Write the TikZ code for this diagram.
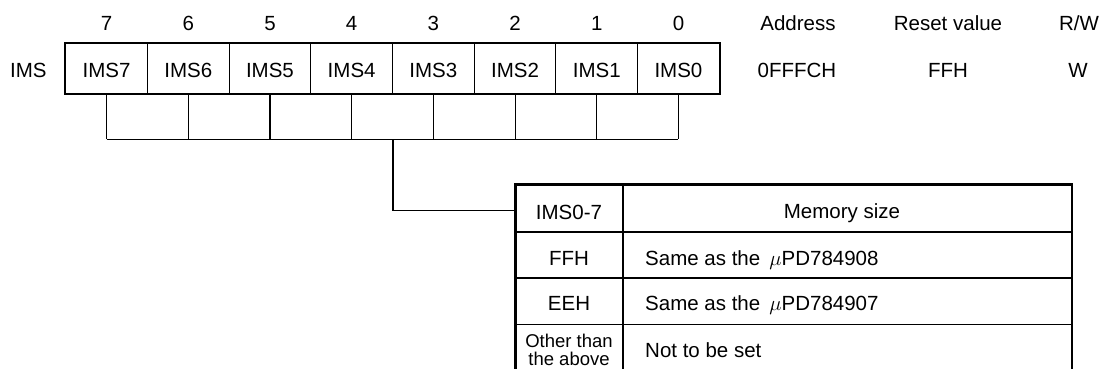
\documentclass[tikz,border=0pt]{standalone}
\usepackage{fontspec}
\setmainfont{Liberation Sans}
\begin{document}
\begin{tikzpicture}[x=1pt,y=-1pt,
  txt/.style={font=\fontsize{20.5}{24}\selectfont, inner sep=0pt, anchor=base},
  small/.style={font=\fontsize{18.5}{18}\selectfont, inner sep=0pt, align=center},
  cell/.style={draw, line width=1pt, minimum width=81.7pt, minimum height=50pt,
    inner sep=0pt, text height=18pt, text depth=0pt, font=\fontsize{20.5}{24}\selectfont},
  thinline/.style={line width=1.1pt},
  thickline/.style={line width=2.5pt}]
\useasboundingbox (0,0) rectangle (1103,368);
\clip (0,0) rectangle (1103,368);

% register label
\node[txt] (lbl) at (28.3,77.3) {IMS};

% register cells and bit numbers
\foreach \b in {7,...,0} {
  \pgfmathsetmacro\cx{65.7+81.7*(7-\b)+40.85}
  \node[cell] (c\b) at (\cx,68.3) {IMS\b};
  \node[txt] (n\b) at (\cx,30.6) {\b};
}
\draw[thickline] (c7.north west) rectangle (c0.south east);

% header info
\node[txt] (addrh) at (798,30) {Address};
\node[txt] (reseth) at (948,30) {Reset value};
\node[txt] (rwh) at (1079,30) {R/W};
\node[txt] (addr) at (797,77.3) {0FFFCH};
\node[txt] (reset) at (948,77.3) {FFH};
\node[txt] (rw) at (1078,77.3) {W};

% comb
\coordinate (bus) at (0,139.3);
\foreach \b in {7,...,0} {
  \draw[thinline] (c\b.south) -- (c\b.south |- bus);
}
\draw[thinline] (c7.south |- bus) -- (c0.south |- bus);
\coordinate (tap) at (c4.south east |- bus);

% table
\coordinate (tl) at (515.5,184.5);
\coordinate (tr) at (1072,184.5);
\draw[thickline] (515.5,380) -- (tl) -- (tr) -- (1072,380);
\draw[line width=2pt] (515.5,231.5) -- (1072,231.5);
\draw[thinline] (515.5,278) -- (1072,278);
\draw[thinline] (515.5,324.5) -- (1072,324.5);
\draw[thinline] (623,184.5) -- (623,380);

\node[txt] (h1) at (569,219) {IMS0-7};
\node[txt] (h2) at (842,218.5) {Memory size};
\node[txt] (r1a) at (569,265) {FFH};
\node[txt, anchor=base west] (r1b) at (645,265) {Same as the\,\ $\mu$PD784908};
\node[txt] (r2a) at (569,310.6) {EEH};
\node[txt, anchor=base west] (r2b) at (645,310.6) {Same as the\,\ $\mu$PD784907};
\node[small, anchor=north] (r3a) at (569,333.5) {Other than\\the above};
\node[txt, anchor=base west] (r3b) at (645,357.3) {Not to be set};

% connector from register to table
\coordinate (tin) at (515.5,210.7);
\draw[thinline] (tap) |- (tin);
\end{tikzpicture}
\end{document}
